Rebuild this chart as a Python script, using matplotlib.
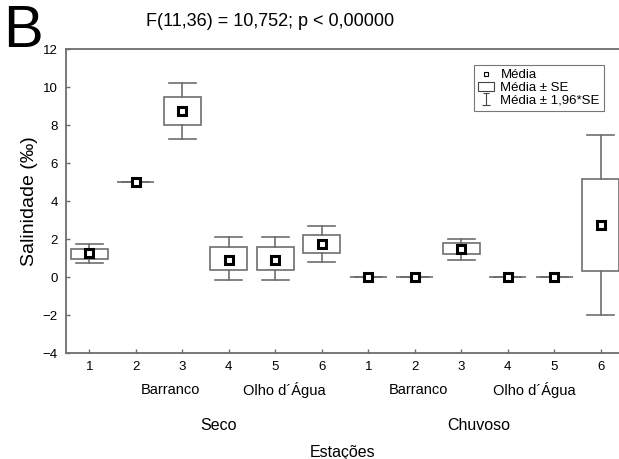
import matplotlib
matplotlib.use("Agg")
import matplotlib.pyplot as plt
import matplotlib.transforms as mtransforms
from matplotlib.lines import Line2D
from matplotlib.patches import Patch
from matplotlib.path import Path

plt.rcParams['font.family'] = ['Liberation Sans', 'DejaVu Sans']

# ---- data ----
positions = list(range(1, 13))
tick_labels = ['1', '2', '3', '4', '5', '6', '1', '2', '3', '4', '5', '6']
means  = [1.25, 5.00, 8.74, 0.89, 0.89, 1.75, 0.00, 0.00, 1.49, 0.00, 0.00, 2.75]
se_lo  = [0.96, 5.00, 7.98, 0.37, 0.37, 1.25, 0.00, 0.00, 1.21, 0.00, 0.00, 0.32]
se_hi  = [1.46, 5.00, 9.46, 1.56, 1.56, 2.19, 0.00, 0.00, 1.77, 0.00, 0.00, 5.14]
ci_lo  = [0.72, 5.00, 7.25, -0.17, -0.17, 0.77, 0.00, 0.00, 0.89, 0.00, 0.00, -2.00]
ci_hi  = [1.72, 5.00, 10.19, 2.10, 2.10, 2.67, 0.00, 0.00, 2.02, 0.00, 0.00, 7.47]
site_labels = ['Barranco', 'Olho d\u00b4\u00c1gua', 'Barranco', 'Olho d\u00b4\u00c1gua']
site_pos = [2.74, 5.2, 8.08, 10.57]
season_labels = ['Seco', 'Chuvoso']
season_pos = [3.77, 9.37]
title = 'F(11,36) = 10,752; p < 0,00000'

W, H = 619, 459
fig = plt.figure(figsize=(W / 100, H / 100), dpi=100)
ax = fig.add_axes([66 / W, 1 - 353 / H, (624 - 66) / W, (353 - 49) / H])

grey = '#6e6e6e'
stats = []
for m, a, b, c, d in zip(means, se_lo, se_hi, ci_lo, ci_hi):
    stats.append(dict(med=m, q1=a, q3=b, whislo=c, whishi=d, fliers=[]))

ax.bxp(stats, positions=positions, widths=0.8, capwidths=0.57,
       showfliers=False, patch_artist=True,
       boxprops=dict(facecolor='white', edgecolor=grey, linewidth=1.2),
       whiskerprops=dict(color=grey, linewidth=1.2),
       capprops=dict(color=grey, linewidth=1.2),
       medianprops=dict(linewidth=0))
ax.plot(positions, means, linestyle='none', marker='s', markersize=5.5,
        markerfacecolor='white', markeredgecolor='black', markeredgewidth=2.2,
        zorder=5)

ax.set_xlim(0.5, 12.5)
ax.set_ylim(-4, 12)
ax.set_yticks(range(-4, 13, 2))
ax.set_xticks(positions)
ax.set_xticklabels(tick_labels)
ax.tick_params(direction='in', length=3, width=1, color=grey, labelsize=9.5)
ax.tick_params(axis='y', pad=6)
ax.tick_params(axis='x', pad=6)
for s in ax.spines.values():
    s.set_color(grey)
    s.set_linewidth(1.3)

ax.set_ylabel('Salinidade (\u2030)', fontsize=14, labelpad=3)

trans = mtransforms.blended_transform_factory(ax.transData, fig.transFigure)
for lab, p in zip(site_labels, site_pos):
    ax.text(p, 1 - 390 / H, lab, transform=trans, ha='center', va='center', fontsize=10.5)
for lab, p in zip(season_labels, season_pos):
    ax.text(p, 1 - 426 / H, lab, transform=trans, ha='center', va='center', fontsize=11.5)
fig.text(343 / W, 1 - 452 / H, 'Esta\u00e7\u00f5es', ha='center', va='center', fontsize=11.5)

fig.text(270 / W, 1 - 21 / H, title, ha='center', va='center', fontsize=13)
fig.text(3 / W, 1 - 47 / H, 'B', ha='left', va='baseline', fontsize=43)

# legend
cap_path = Path([(-0.5, 1), (0.5, 1), (0, 1), (0, -1), (-0.7, -1), (0.7, -1)],
                [Path.MOVETO, Path.LINETO, Path.MOVETO, Path.LINETO, Path.MOVETO, Path.LINETO])
h1 = Line2D([], [], linestyle='none', marker='s', markersize=3.5,
            markerfacecolor='white', markeredgecolor='black', markeredgewidth=0.8)
h2 = Patch(facecolor='white', edgecolor='#444444', linewidth=0.8)
h3 = Line2D([], [], linestyle='none', marker=cap_path, markersize=9,
            markerfacecolor='none', markeredgecolor='#444444', markeredgewidth=0.8)
leg = ax.legend([h1, h2, h3], ['M\u00e9dia', 'M\u00e9dia \u00b1 SE', 'M\u00e9dia \u00b1 1,96*SE'],
                loc='upper left', bbox_to_anchor=((474 - 66) / (624 - 66), 1 - (65 - 49) / 304),
                fontsize=9.5, frameon=True, fancybox=False, borderpad=0.3,
                labelspacing=0.05, handlelength=1.2, handletextpad=0.5,
                borderaxespad=0)
leg.get_frame().set_edgecolor('#555555')
leg.get_frame().set_linewidth(0.8)

fig.savefig('out.png', dpi=100)
